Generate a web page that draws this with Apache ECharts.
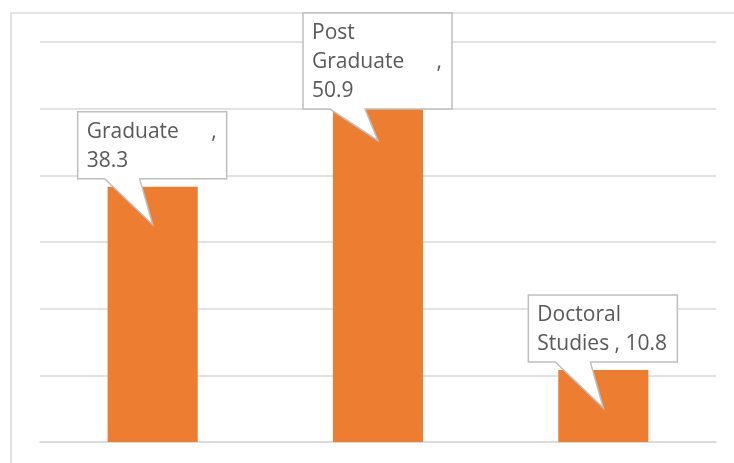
<!DOCTYPE html>
<html>
<head>
<meta charset="utf-8">
<script src="https://cdn.jsdelivr.net/npm/echarts@6/dist/echarts.min.js"></script>
<style>
  html, body { margin: 0; padding: 0; background: #fff; }
  #chart { width: 734px; height: 463px; }
</style>
</head>
<body>
<div id="chart"></div>
<script>
var categories = ["Graduate", "Post Graduate", "Doctoral Studies"];
var values = [38.3, 50.9, 10.8];
// how the callout text wraps, like in the original
var calloutLines = [
  ["Graduate ,", "38.3"],
  ["Post", "Graduate ,", "50.9"],
  ["Doctoral", "Studies , 10.8"]
];

var myChart = echarts.init(document.getElementById("chart"));
var textColor = "#595959";
var font = "21px 'Open Sans'";

function renderCallout(params, api) {
  var idx = api.value(0);
  var pt = api.coord([idx, api.value(1)]);
  var cx = pt[0], ty = pt[1];
  var lines = calloutLines[idx];
  var h = 9 + lines.length * 29;
  var bottom = ty - 8;
  var top = bottom - h;
  if (top < 13) {
    top = 13;
    bottom = top + h;
  }
  var left = cx - 75, right = cx + 74;
  var tip = [cx, ty + 38];
  var children = [{
    type: "polygon",
    shape: {
      points: [
        [left, top], [right, top], [right, bottom],
        [cx - 13, bottom], tip, [cx - 48, bottom], [left, bottom]
      ]
    },
    style: { fill: "#fff", stroke: "#BFBFBF", lineWidth: 1.5 }
  }];
  lines.forEach(function (line, i) {
    var y = top + 27 + i * 29 - 7;
    var m = line.match(/^(\S+) ,$/);
    if (m) {
      children.push({
        type: "text",
        style: { x: left + 9, y: y, text: m[1], font: font, fill: textColor, verticalAlign: "middle" }
      });
      children.push({
        type: "text",
        style: { x: right - 10, y: y, text: ",", font: font, fill: textColor, align: "right", verticalAlign: "middle" }
      });
    } else {
      children.push({
        type: "text",
        style: { x: left + 9, y: y, text: line, font: font, fill: textColor, verticalAlign: "middle" }
      });
    }
  });
  return { type: "group", children: children };
}

var option = {
  animation: false,
  graphic: [{
    type: "rect",
    shape: { x: 11, y: 13, width: 740, height: 470 },
    style: { fill: null, stroke: "#D9D9D9", lineWidth: 1.5 },
    silent: true
  }],
  grid: { left: 40, right: 18, top: 42, bottom: 21 },
  xAxis: {
    type: "category",
    data: categories,
    axisLine: { lineStyle: { color: "#D9D9D9", width: 1.5 } },
    axisTick: { show: false },
    axisLabel: { show: false }
  },
  yAxis: {
    type: "value",
    min: 0,
    max: 60,
    interval: 10,
    axisLabel: { show: false },
    axisLine: { show: false },
    axisTick: { show: false },
    splitLine: { lineStyle: { color: "#D9D9D9", width: 1.5 } }
  },
  series: [
    {
      type: "bar",
      data: values,
      barWidth: "40%",
      itemStyle: { color: "#ED7D31" }
    },
    {
      type: "custom",
      z: 10,
      renderItem: renderCallout,
      data: values.map(function (v, i) { return [i, v]; })
    }
  ]
};
option && myChart.setOption(option);
</script>
</body>
</html>
